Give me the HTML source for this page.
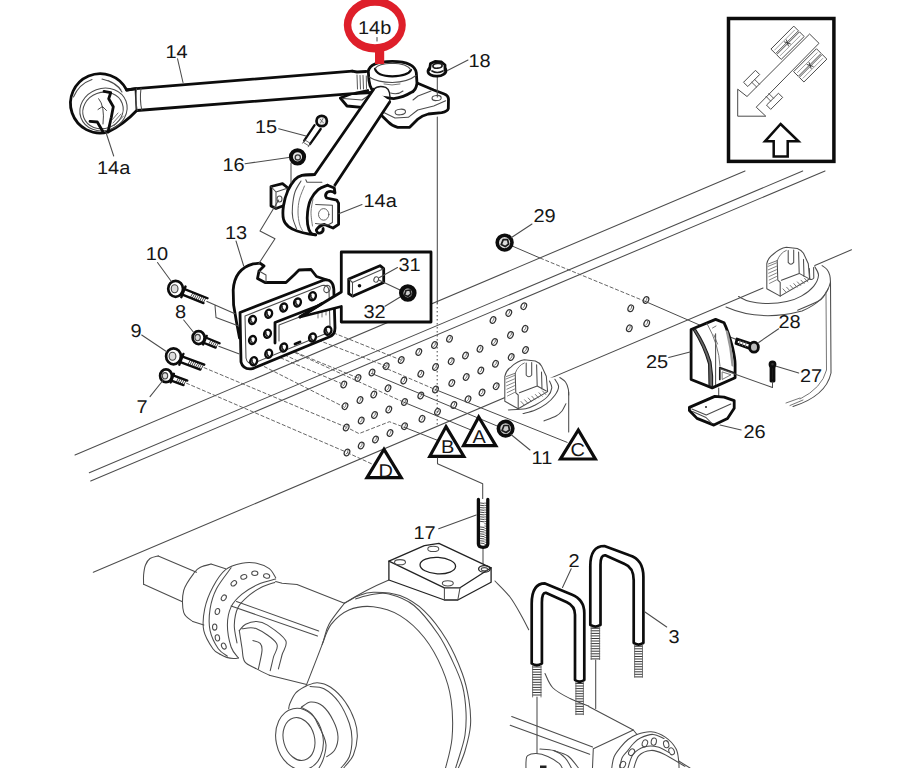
<!DOCTYPE html>
<html><head><meta charset="utf-8"><title>Diagram</title>
<style>
html,body{margin:0;padding:0;background:#fff;overflow:hidden}
svg{display:block}
text{font-family:"Liberation Sans",sans-serif;font-size:18.5px;fill:#161616;text-rendering:geometricPrecision}
.k{stroke:#0c0c0c;stroke-width:2.8;fill:none;stroke-linecap:round;stroke-linejoin:round}
.kw{stroke:#0c0c0c;stroke-width:2.8;fill:#fff;stroke-linecap:round;stroke-linejoin:round}
.m{stroke:#1c1c1c;stroke-width:1.7;fill:none;stroke-linecap:round;stroke-linejoin:round}
.mw{stroke:#1c1c1c;stroke-width:1.7;fill:#fff;stroke-linecap:round;stroke-linejoin:round}
.t{stroke:#4c4c4c;stroke-width:1.05;fill:none;stroke-linecap:round;stroke-linejoin:round}
.tw{stroke:#4c4c4c;stroke-width:1.05;fill:#fff;stroke-linecap:round;stroke-linejoin:round}
.g{stroke:#666;stroke-width:0.9;fill:none;stroke-linecap:round;stroke-linejoin:round}
.d{stroke:#555;stroke-width:0.9;fill:none;stroke-dasharray:4 1.8}
.d2{stroke:#444;stroke-width:1;fill:none;stroke-dasharray:1.5 2.5}
.g2{stroke:#4a4a4a;stroke-width:1;fill:none}
.w{fill:#fff;stroke:none}
</style></head><body>
<svg width="900" height="768" viewBox="0 0 900 768">
<rect width="900" height="768" fill="#fff"/>
<g id="frame">
<path class="t" d="M75.0 455.0L745.0 171.0" />
<path class="t" d="M89.3 472.7L802.7 171.0" />
<path class="t" d="M90.7 481.0L825.0 171.0" />
<path class="t" d="M93.3 572.3L763.0 288.0" />
</g>
<g id="airR">
<path class="t" d="M726 307 Q760 322 802 311 Q826 301 830.5 282 L831 373 Q826 396 793 406.5" />
<path class="t" d="M814.8 265.6L851.5 249.7" />
<path class="t" d="M814.8 266.8C815.4 268.2 818.7 272.1 818.5 275.3C818.3 278.6 816.5 282.8 813.6 286.3C810.7 289.8 805.8 293.6 801.3 296.1C796.8 298.7 792.2 300.4 786.7 301.6C781.2 302.8 774.4 303.5 768.3 303.5C762.2 303.5 755.0 302.8 750.0 301.6C745.0 300.4 740.4 297.4 738.5 296.5" />
<path class="t" d="M822.1 265.6C822.9 266.2 825.7 267.9 827.0 269.5C828.3 271.1 829.2 273.1 829.8 275.3C830.4 277.6 830.4 281.7 830.5 283.0" />
<path class="t" d="M828.2 288.8C827.5 290.0 825.6 294.0 824.0 296.0C822.4 298.0 822.9 298.6 818.5 301.0C814.1 303.4 801.2 308.7 797.7 310.2" />
<path class="g" d="M826 292 L826.5 370 Q822 388 800 399" />
<path class="g" d="M786 403 L800 398 M790 405.5 L803 400" />
<path class="t" d="M809.3 268.5 L809.8 279 Q812 280.5 813.8 278 L813.6 267.5" />
<g transform="translate(262 -112.6)">
<path class="tw" d="M504.8 376.3 Q506 370.5 510.9 367.1 Q518 360.5 524.3 359.8 L535.3 361 Q539.5 362.5 541.5 365.9 L546.3 376.3 L547.6 391.6 L518.2 408.7 L504.8 401.3 Z" />
<path class="t" d="M515.2 373.2 L515.8 392.8 L518.2 395 L518.2 408.7 M536.6 364.7 L537.2 386 L519.4 392.8 M537.2 386 L546.3 391 M541.5 372 L542 389" />
<path class="g" d="M515.2 373.2 Q518 365.5 524.3 363 M506.5 376.5 L515.2 373.2" />
<path class="t" d="M526.2 363 L526.2 375 Q528.8 378.5 531.7 375 L531.7 362.5" />
<path class="g" d="M506.0 379.0L514.5 375.5" style="stroke:#777"/>
<path class="g" d="M506.3 382.4L514.5 378.9" style="stroke:#777"/>
<path class="g" d="M506.6 385.8L514.5 382.3" style="stroke:#777"/>
<path class="g" d="M506.9 389.2L514.5 385.7" style="stroke:#777"/>
<path class="g" d="M507.2 392.6L514.5 389.1" style="stroke:#777"/>
<path class="g" d="M507.5 396.0L514.5 392.5" style="stroke:#777"/>
<path class="g" d="M521.0 401.5L524.2 405.0" style="stroke:#666"/>
<path class="g" d="M524.6 399.8L527.8 403.2" style="stroke:#666"/>
<path class="g" d="M528.2 398.0L531.4 401.5" style="stroke:#666"/>
<path class="g" d="M531.8 396.2L535.0 399.8" style="stroke:#666"/>
<path class="g" d="M535.4 394.5L538.6 398.0" style="stroke:#666"/>
<path class="g" d="M539.0 392.8L542.2 396.2" style="stroke:#666"/>
<path class="g" d="M542.6 391.0L545.8 394.5" style="stroke:#666"/>
</g>
</g>
<g id="airC">
<path class="w" d="M504.8 397 L548.8 377.5 L559.8 377.5 Q568 382 568.7 392 L568.7 431 L540 425 Z" />
<path class="t" d="M559.8 377.5C560.8 378.2 564.1 380.1 565.5 382.0C566.9 383.9 567.8 386.9 568.3 389.1C568.8 391.3 568.6 394.0 568.7 395.0" />
<path class="t" d="M568.7 392.0L568.7 432.0" />
<path class="t" d="M554.9 379.3C555.5 380.5 558.6 383.9 558.6 386.5C558.6 389.1 557.0 392.3 554.9 395.2C552.8 398.1 549.6 401.4 546.3 403.8C543.0 406.2 539.2 408.3 535.3 409.9C531.4 411.5 525.1 413.0 523.1 413.6" />
<path class="t" d="M549.5 381.0C549.9 382.1 552.1 385.3 551.8 387.9C551.5 390.5 550.4 393.6 547.6 396.5C544.9 399.4 539.0 403.0 535.3 405.0C531.6 407.0 530.1 407.9 525.6 408.7C521.1 409.5 511.3 409.7 508.4 409.9" />
<path class="t" d="M565.9 403.8C565.2 405.0 563.6 409.0 562.0 411.0C560.4 413.0 559.1 414.4 556.1 416.0C553.1 417.6 545.9 420.1 543.9 420.9" />
<path class="tw" d="M504.8 376.3 Q506 370.5 510.9 367.1 Q518 360.5 524.3 359.8 L535.3 361 Q539.5 362.5 541.5 365.9 L546.3 376.3 L547.6 391.6 L518.2 408.7 L504.8 401.3 Z" />
<path class="t" d="M515.2 373.2 L515.8 392.8 L518.2 395 L518.2 408.7 M536.6 364.7 L537.2 386 L519.4 392.8 M537.2 386 L546.3 391 M541.5 372 L542 389" />
<path class="g" d="M515.2 373.2 Q518 365.5 524.3 363 M506.5 376.5 L515.2 373.2" />
<path class="t" d="M526.2 363 L526.2 375 Q528.8 378.5 531.7 375 L531.7 362.5" />
<path class="g" d="M506.0 379.0L514.5 375.5" style="stroke:#777"/>
<path class="g" d="M506.3 382.4L514.5 378.9" style="stroke:#777"/>
<path class="g" d="M506.6 385.8L514.5 382.3" style="stroke:#777"/>
<path class="g" d="M506.9 389.2L514.5 385.7" style="stroke:#777"/>
<path class="g" d="M507.2 392.6L514.5 389.1" style="stroke:#777"/>
<path class="g" d="M507.5 396.0L514.5 392.5" style="stroke:#777"/>
<path class="g" d="M521.0 401.5L524.2 405.0" style="stroke:#666"/>
<path class="g" d="M524.6 399.8L527.8 403.2" style="stroke:#666"/>
<path class="g" d="M528.2 398.0L531.4 401.5" style="stroke:#666"/>
<path class="g" d="M531.8 396.2L535.0 399.8" style="stroke:#666"/>
<path class="g" d="M535.4 394.5L538.6 398.0" style="stroke:#666"/>
<path class="g" d="M539.0 392.8L542.2 396.2" style="stroke:#666"/>
<path class="g" d="M542.6 391.0L545.8 394.5" style="stroke:#666"/>
</g>
<g id="holes">
<ellipse class="t" cx="343.8" cy="384.5" rx="2.6" ry="3.4" transform="rotate(25 343.8 384.5)" style="stroke:#333;stroke-width:1.25"/>
<path class="g" d="M342.9 386.0Q345.2 385.0 344.8 382.5"/>
<ellipse class="t" cx="358.0" cy="378.0" rx="2.6" ry="3.4" transform="rotate(25 358.0 378.0)" style="stroke:#333;stroke-width:1.25"/>
<path class="g" d="M357.2 379.5Q359.5 378.5 359.0 376.0"/>
<ellipse class="t" cx="372.0" cy="372.5" rx="2.6" ry="3.4" transform="rotate(25 372.0 372.5)" style="stroke:#333;stroke-width:1.25"/>
<path class="g" d="M371.2 374.0Q373.5 373.0 373.0 370.5"/>
<ellipse class="t" cx="386.2" cy="366.2" rx="2.6" ry="3.4" transform="rotate(25 386.2 366.2)" style="stroke:#333;stroke-width:1.25"/>
<path class="g" d="M385.4 367.8Q387.8 366.8 387.2 364.2"/>
<ellipse class="t" cx="401.2" cy="360.0" rx="2.6" ry="3.4" transform="rotate(25 401.2 360.0)" style="stroke:#333;stroke-width:1.25"/>
<path class="g" d="M400.4 361.5Q402.8 360.5 402.2 358.0"/>
<ellipse class="t" cx="418.8" cy="352.0" rx="2.6" ry="3.4" transform="rotate(25 418.8 352.0)" style="stroke:#333;stroke-width:1.25"/>
<path class="g" d="M417.9 353.5Q420.2 352.5 419.8 350.0"/>
<ellipse class="t" cx="434.5" cy="345.0" rx="2.6" ry="3.4" transform="rotate(25 434.5 345.0)" style="stroke:#333;stroke-width:1.25"/>
<path class="g" d="M433.7 346.5Q436.0 345.5 435.5 343.0"/>
<ellipse class="t" cx="449.5" cy="338.8" rx="2.6" ry="3.4" transform="rotate(25 449.5 338.8)" style="stroke:#333;stroke-width:1.25"/>
<path class="g" d="M448.7 340.2Q451.0 339.2 450.5 336.8"/>
<ellipse class="t" cx="345.0" cy="406.2" rx="2.6" ry="3.4" transform="rotate(25 345.0 406.2)" style="stroke:#333;stroke-width:1.25"/>
<path class="g" d="M344.2 407.8Q346.5 406.8 346.0 404.2"/>
<ellipse class="t" cx="360.0" cy="400.0" rx="2.6" ry="3.4" transform="rotate(25 360.0 400.0)" style="stroke:#333;stroke-width:1.25"/>
<path class="g" d="M359.2 401.5Q361.5 400.5 361.0 398.0"/>
<ellipse class="t" cx="373.8" cy="394.5" rx="2.6" ry="3.4" transform="rotate(25 373.8 394.5)" style="stroke:#333;stroke-width:1.25"/>
<path class="g" d="M372.9 396.0Q375.2 395.0 374.8 392.5"/>
<ellipse class="t" cx="388.0" cy="388.2" rx="2.6" ry="3.4" transform="rotate(25 388.0 388.2)" style="stroke:#333;stroke-width:1.25"/>
<path class="g" d="M387.2 389.8Q389.5 388.8 389.0 386.2"/>
<ellipse class="t" cx="403.8" cy="380.5" rx="2.6" ry="3.4" transform="rotate(25 403.8 380.5)" style="stroke:#333;stroke-width:1.25"/>
<path class="g" d="M402.9 382.0Q405.2 381.0 404.8 378.5"/>
<ellipse class="t" cx="420.8" cy="373.8" rx="2.6" ry="3.4" transform="rotate(25 420.8 373.8)" style="stroke:#333;stroke-width:1.25"/>
<path class="g" d="M419.9 375.2Q422.2 374.2 421.8 371.8"/>
<ellipse class="t" cx="435.5" cy="367.0" rx="2.6" ry="3.4" transform="rotate(25 435.5 367.0)" style="stroke:#333;stroke-width:1.25"/>
<path class="g" d="M434.7 368.5Q437.0 367.5 436.5 365.0"/>
<ellipse class="t" cx="451.2" cy="361.2" rx="2.6" ry="3.4" transform="rotate(25 451.2 361.2)" style="stroke:#333;stroke-width:1.25"/>
<path class="g" d="M450.4 362.8Q452.8 361.8 452.2 359.2"/>
<ellipse class="t" cx="465.5" cy="355.5" rx="2.6" ry="3.4" transform="rotate(25 465.5 355.5)" style="stroke:#333;stroke-width:1.25"/>
<path class="g" d="M464.7 357.0Q467.0 356.0 466.5 353.5"/>
<ellipse class="t" cx="480.0" cy="348.8" rx="2.6" ry="3.4" transform="rotate(25 480.0 348.8)" style="stroke:#333;stroke-width:1.25"/>
<path class="g" d="M479.2 350.2Q481.5 349.2 481.0 346.8"/>
<ellipse class="t" cx="494.5" cy="342.0" rx="2.6" ry="3.4" transform="rotate(25 494.5 342.0)" style="stroke:#333;stroke-width:1.25"/>
<path class="g" d="M493.7 343.5Q496.0 342.5 495.5 340.0"/>
<ellipse class="t" cx="510.5" cy="335.0" rx="2.6" ry="3.4" transform="rotate(25 510.5 335.0)" style="stroke:#333;stroke-width:1.25"/>
<path class="g" d="M509.7 336.5Q512.0 335.5 511.5 333.0"/>
<ellipse class="t" cx="525.0" cy="328.8" rx="2.6" ry="3.4" transform="rotate(25 525.0 328.8)" style="stroke:#333;stroke-width:1.25"/>
<path class="g" d="M524.2 330.2Q526.5 329.2 526.0 326.8"/>
<ellipse class="t" cx="493.0" cy="320.0" rx="2.6" ry="3.4" transform="rotate(25 493.0 320.0)" style="stroke:#333;stroke-width:1.25"/>
<path class="g" d="M492.2 321.5Q494.5 320.5 494.0 318.0"/>
<ellipse class="t" cx="508.8" cy="313.0" rx="2.6" ry="3.4" transform="rotate(25 508.8 313.0)" style="stroke:#333;stroke-width:1.25"/>
<path class="g" d="M507.9 314.5Q510.2 313.5 509.8 311.0"/>
<ellipse class="t" cx="523.8" cy="306.2" rx="2.6" ry="3.4" transform="rotate(25 523.8 306.2)" style="stroke:#333;stroke-width:1.25"/>
<path class="g" d="M523.0 307.8Q525.2 306.8 524.8 304.2"/>
<ellipse class="t" cx="346.2" cy="427.5" rx="2.6" ry="3.4" transform="rotate(25 346.2 427.5)" style="stroke:#333;stroke-width:1.25"/>
<path class="g" d="M345.4 429.0Q347.8 428.0 347.2 425.5"/>
<ellipse class="t" cx="361.2" cy="420.5" rx="2.6" ry="3.4" transform="rotate(25 361.2 420.5)" style="stroke:#333;stroke-width:1.25"/>
<path class="g" d="M360.4 422.0Q362.8 421.0 362.2 418.5"/>
<ellipse class="t" cx="374.5" cy="415.0" rx="2.6" ry="3.4" transform="rotate(25 374.5 415.0)" style="stroke:#333;stroke-width:1.25"/>
<path class="g" d="M373.7 416.5Q376.0 415.5 375.5 413.0"/>
<ellipse class="t" cx="388.8" cy="409.5" rx="2.6" ry="3.4" transform="rotate(25 388.8 409.5)" style="stroke:#333;stroke-width:1.25"/>
<path class="g" d="M387.9 411.0Q390.2 410.0 389.8 407.5"/>
<ellipse class="t" cx="404.5" cy="402.0" rx="2.6" ry="3.4" transform="rotate(25 404.5 402.0)" style="stroke:#333;stroke-width:1.25"/>
<path class="g" d="M403.7 403.5Q406.0 402.5 405.5 400.0"/>
<ellipse class="t" cx="420.8" cy="395.5" rx="2.6" ry="3.4" transform="rotate(25 420.8 395.5)" style="stroke:#333;stroke-width:1.25"/>
<path class="g" d="M419.9 397.0Q422.2 396.0 421.8 393.5"/>
<ellipse class="t" cx="435.5" cy="389.5" rx="2.6" ry="3.4" transform="rotate(25 435.5 389.5)" style="stroke:#333;stroke-width:1.25"/>
<path class="g" d="M434.7 391.0Q437.0 390.0 436.5 387.5"/>
<ellipse class="t" cx="451.8" cy="383.0" rx="2.6" ry="3.4" transform="rotate(25 451.8 383.0)" style="stroke:#333;stroke-width:1.25"/>
<path class="g" d="M450.9 384.5Q453.2 383.5 452.8 381.0"/>
<ellipse class="t" cx="466.2" cy="377.0" rx="2.6" ry="3.4" transform="rotate(25 466.2 377.0)" style="stroke:#333;stroke-width:1.25"/>
<path class="g" d="M465.4 378.5Q467.8 377.5 467.2 375.0"/>
<ellipse class="t" cx="480.8" cy="370.5" rx="2.6" ry="3.4" transform="rotate(25 480.8 370.5)" style="stroke:#333;stroke-width:1.25"/>
<path class="g" d="M479.9 372.0Q482.2 371.0 481.8 368.5"/>
<ellipse class="t" cx="495.5" cy="363.8" rx="2.6" ry="3.4" transform="rotate(25 495.5 363.8)" style="stroke:#333;stroke-width:1.25"/>
<path class="g" d="M494.7 365.2Q497.0 364.2 496.5 361.8"/>
<ellipse class="t" cx="511.2" cy="357.0" rx="2.6" ry="3.4" transform="rotate(25 511.2 357.0)" style="stroke:#333;stroke-width:1.25"/>
<path class="g" d="M510.4 358.5Q512.8 357.5 512.2 355.0"/>
<ellipse class="t" cx="525.5" cy="350.0" rx="2.6" ry="3.4" transform="rotate(25 525.5 350.0)" style="stroke:#333;stroke-width:1.25"/>
<path class="g" d="M524.7 351.5Q527.0 350.5 526.5 348.0"/>
<ellipse class="t" cx="347.0" cy="452.5" rx="2.6" ry="3.4" transform="rotate(25 347.0 452.5)" style="stroke:#333;stroke-width:1.25"/>
<path class="g" d="M346.2 454.0Q348.5 453.0 348.0 450.5"/>
<ellipse class="t" cx="361.2" cy="445.5" rx="2.6" ry="3.4" transform="rotate(25 361.2 445.5)" style="stroke:#333;stroke-width:1.25"/>
<path class="g" d="M360.4 447.0Q362.8 446.0 362.2 443.5"/>
<ellipse class="t" cx="375.5" cy="439.5" rx="2.6" ry="3.4" transform="rotate(25 375.5 439.5)" style="stroke:#333;stroke-width:1.25"/>
<path class="g" d="M374.7 441.0Q377.0 440.0 376.5 437.5"/>
<ellipse class="t" cx="390.0" cy="433.0" rx="2.6" ry="3.4" transform="rotate(25 390.0 433.0)" style="stroke:#333;stroke-width:1.25"/>
<path class="g" d="M389.2 434.5Q391.5 433.5 391.0 431.0"/>
<ellipse class="t" cx="404.5" cy="426.2" rx="2.6" ry="3.4" transform="rotate(25 404.5 426.2)" style="stroke:#333;stroke-width:1.25"/>
<path class="g" d="M403.7 427.8Q406.0 426.8 405.5 424.2"/>
<ellipse class="t" cx="422.0" cy="418.8" rx="2.6" ry="3.4" transform="rotate(25 422.0 418.8)" style="stroke:#333;stroke-width:1.25"/>
<path class="g" d="M421.2 420.2Q423.5 419.2 423.0 416.8"/>
<ellipse class="t" cx="437.5" cy="411.8" rx="2.6" ry="3.4" transform="rotate(25 437.5 411.8)" style="stroke:#333;stroke-width:1.25"/>
<path class="g" d="M436.7 413.2Q439.0 412.2 438.5 409.8"/>
<ellipse class="t" cx="453.8" cy="405.0" rx="2.6" ry="3.4" transform="rotate(25 453.8 405.0)" style="stroke:#333;stroke-width:1.25"/>
<path class="g" d="M452.9 406.5Q455.2 405.5 454.8 403.0"/>
<ellipse class="t" cx="468.0" cy="399.2" rx="2.6" ry="3.4" transform="rotate(25 468.0 399.2)" style="stroke:#333;stroke-width:1.25"/>
<path class="g" d="M467.2 400.8Q469.5 399.8 469.0 397.2"/>
<ellipse class="t" cx="482.0" cy="392.5" rx="2.6" ry="3.4" transform="rotate(25 482.0 392.5)" style="stroke:#333;stroke-width:1.25"/>
<path class="g" d="M481.2 394.0Q483.5 393.0 483.0 390.5"/>
<ellipse class="t" cx="496.2" cy="386.2" rx="2.6" ry="3.4" transform="rotate(25 496.2 386.2)" style="stroke:#333;stroke-width:1.25"/>
<path class="g" d="M495.4 387.8Q497.8 386.8 497.2 384.2"/>
<ellipse class="t" cx="630.7" cy="308.3" rx="2.6" ry="3.4" transform="rotate(25 630.7 308.3)" style="stroke:#333;stroke-width:1.25"/>
<path class="g" d="M629.9 309.8Q632.2 308.8 631.7 306.3"/>
<ellipse class="t" cx="646.0" cy="300.0" rx="2.6" ry="3.4" transform="rotate(25 646.0 300.0)" style="stroke:#333;stroke-width:1.25"/>
<path class="g" d="M645.2 301.5Q647.5 300.5 647.0 298.0"/>
<ellipse class="t" cx="629.3" cy="328.3" rx="2.6" ry="3.4" transform="rotate(25 629.3 328.3)" style="stroke:#333;stroke-width:1.25"/>
<path class="g" d="M628.5 329.8Q630.8 328.8 630.3 326.3"/>
<ellipse class="t" cx="646.7" cy="323.3" rx="2.6" ry="3.4" transform="rotate(25 646.7 323.3)" style="stroke:#333;stroke-width:1.25"/>
<path class="g" d="M645.9 324.8Q648.2 323.8 647.7 321.3"/>
</g>
<g id="guides">
<path class="d2" d="M437.2 303.0L437.2 426.0" />
<path class="d" d="M203.7 367.5L346.4 427.3" />
<path class="d" d="M186.0 383.0L344.6 451.4" />
<path class="d" d="M253.6 361.2L343.7 406.8" />
<path class="d" d="M269.6 353.2L343.7 384.5" />
<path class="d" d="M284.8 347.9L358.0 378.0" />
<path class="d" d="M312.5 338.0L386.2 366.2" />
<path class="d" d="M328.0 330.7L401.0 360.0" />
<path class="d" d="M252.7 340.2L300.0 362.0" />
<path class="d" d="M283.7 347.5L403.5 402.1" />
<path class="g2" d="M645.0 301.3L702.5 326.3" />
<path class="d" d="M347.0 452.5L372.0 464.0" />
<path class="g2" d="M371.6 373.4L505.5 429.5" />
<path class="d" d="M382.0 366.6L434.7 389.3" />
<path class="g2" d="M434.7 389.3L567.5 442.5" />
<path class="g2" d="M403.5 402.1L471.0 430.0" />
<path class="g2" d="M404.0 427.2L438.0 440.5" />
<path class="d" d="M350.0 429.0L359.0 433.6L389.4 421.7L404.0 427.2" />
</g>
<g id="bracket">
<path class="kw" d="M239.5 338 L236.5 322 L233.6 305 L233.2 290 Q234.5 269 253.2 263.9 L260 263.2 L264 266 L259 271 L257.5 278.5 L265 282.5 L286 282.5 L294 275 L299 270 L311 269.5 L316.5 276.5 L330 281 L330 300 L240 335 Z" />
<path class="t" d="M259 271 L266 275 L266 282" />
<path class="kw" d="M240 312.5 L324 280 Q333 279 333.8 289 L335 328 Q335 335 329 337 L252.5 368.7 Q243 370 241 362 Z" />
<path class="t" d="M245 316 L322 285.5 Q328.5 284.5 329 291 L330 327 Q330 332 326 333.5 L254 363 Q247 364.5 246 358 Z" />
<path class="k" d="M275 343 L275 322.5 L320 305 L333 301" />
<path class="t" d="M279 341 L279 325 L320 309" />
<path class="g" d="M318 306 L318 318 M322 304 L322 317 M326 303 L326 315" />
<ellipse cx="252.5" cy="320" rx="3.3" ry="4.1" transform="rotate(20 252.5 320)" fill="#fff" stroke="#0c0c0c" stroke-width="2.4"/>
<path d="M250.9 318.2Q250.1 321.2 252.7 322.6" stroke="#222" stroke-width="1.5" fill="none"/>
<ellipse cx="268.7" cy="313.7" rx="3.3" ry="4.1" transform="rotate(20 268.7 313.7)" fill="#fff" stroke="#0c0c0c" stroke-width="2.4"/>
<path d="M267.1 311.9Q266.3 314.9 268.9 316.3" stroke="#222" stroke-width="1.5" fill="none"/>
<ellipse cx="283.7" cy="307.5" rx="3.3" ry="4.1" transform="rotate(20 283.7 307.5)" fill="#fff" stroke="#0c0c0c" stroke-width="2.4"/>
<path d="M282.1 305.7Q281.3 308.7 283.9 310.1" stroke="#222" stroke-width="1.5" fill="none"/>
<ellipse cx="297.5" cy="302.5" rx="3.3" ry="4.1" transform="rotate(20 297.5 302.5)" fill="#fff" stroke="#0c0c0c" stroke-width="2.4"/>
<path d="M295.9 300.7Q295.1 303.7 297.7 305.1" stroke="#222" stroke-width="1.5" fill="none"/>
<ellipse cx="312.5" cy="296.2" rx="3.3" ry="4.1" transform="rotate(20 312.5 296.2)" fill="#fff" stroke="#0c0c0c" stroke-width="2.4"/>
<path d="M310.9 294.4Q310.1 297.4 312.7 298.8" stroke="#222" stroke-width="1.5" fill="none"/>
<ellipse cx="252.5" cy="340" rx="3.3" ry="4.1" transform="rotate(20 252.5 340)" fill="#fff" stroke="#0c0c0c" stroke-width="2.4"/>
<path d="M250.9 338.2Q250.1 341.2 252.7 342.6" stroke="#222" stroke-width="1.5" fill="none"/>
<ellipse cx="267.5" cy="333.7" rx="3.3" ry="4.1" transform="rotate(20 267.5 333.7)" fill="#fff" stroke="#0c0c0c" stroke-width="2.4"/>
<path d="M265.9 331.9Q265.1 334.9 267.7 336.3" stroke="#222" stroke-width="1.5" fill="none"/>
<ellipse cx="253.7" cy="361.2" rx="3.3" ry="4.1" transform="rotate(20 253.7 361.2)" fill="#fff" stroke="#0c0c0c" stroke-width="2.4"/>
<path d="M252.1 359.4Q251.3 362.4 253.9 363.8" stroke="#222" stroke-width="1.5" fill="none"/>
<ellipse cx="268.7" cy="353.7" rx="3.3" ry="4.1" transform="rotate(20 268.7 353.7)" fill="#fff" stroke="#0c0c0c" stroke-width="2.4"/>
<path d="M267.1 351.9Q266.3 354.9 268.9 356.3" stroke="#222" stroke-width="1.5" fill="none"/>
<ellipse cx="283.7" cy="347.5" rx="3.3" ry="4.1" transform="rotate(20 283.7 347.5)" fill="#fff" stroke="#0c0c0c" stroke-width="2.4"/>
<path d="M282.1 345.7Q281.3 348.7 283.9 350.1" stroke="#222" stroke-width="1.5" fill="none"/>
<ellipse cx="312.5" cy="337.5" rx="3.3" ry="4.1" transform="rotate(20 312.5 337.5)" fill="#fff" stroke="#0c0c0c" stroke-width="2.4"/>
<path d="M310.9 335.7Q310.1 338.7 312.7 340.1" stroke="#222" stroke-width="1.5" fill="none"/>
<ellipse cx="328" cy="330.7" rx="3.3" ry="4.1" transform="rotate(20 328 330.7)" fill="#fff" stroke="#0c0c0c" stroke-width="2.4"/>
<path d="M326.4 328.9Q325.6 331.9 328.2 333.3" stroke="#222" stroke-width="1.5" fill="none"/>
<ellipse class="t" cx="327.0" cy="289.0" rx="3" ry="3.6" transform="rotate(20 327.0 289.0)" />
<path class="k" d="M295.0 344.0L300.0 342.0" />
</g>
<g id="box31">
<path class="kw" d="M341.3 292 L341.3 252 L431 252 L431 322 L341.3 322 L341.3 306.5 L300 317 Z" />
<path class="k" d="M300 317 L322 303.5" />
<path class="kw" d="M348.7 279.0L380.0 265.7L383.7 268.7L383.7 282.5L352.5 296.2L348.7 293.7Z" />
<path class="t" d="M352.5 296.2 L352.5 282.5 L348.7 279 M352.5 282.5 L383.7 268.7" />
<circle cx="359.5" cy="285.7" r="1.8" fill="#111"/>
<ellipse class="t" cx="376.2" cy="279.5" rx="2.3" ry="2.8" transform="rotate(20 376.2 279.5)" />
<path class="t" d="M378.7 280.0L400.0 290.0" />
<path class="t" d="M379.5 277.5L397.5 267.5" />
<path class="t" d="M385.0 306.2L401.0 296.5" />
<circle cx="407.8" cy="293" r="6.6" fill="#ccc" stroke="#0c0c0c" stroke-width="4.4"/>
<path class="m" d="M404.5 295 L406 290.5 L410 290 L411 294 L408 296.5 Z" />
</g>
<g id="bolts">
<path class="t" d="M206.5 301.3 L235 313.7 M215 305.5 L216 317.5 L238.7 326" />
<path class="t" d="M218.7 346.3L238.7 353.7" />
<path class="w" d="M180.5 293.9L205.4 303.8L207.6 298.2L182.7 288.4" />
<path class="g" d="M190.1 297.8L193.1 292.5" style="stroke:#333"/>
<path class="g" d="M192.0 298.5L195.0 293.2" style="stroke:#333"/>
<path class="g" d="M193.9 299.2L196.8 294.0" style="stroke:#333"/>
<path class="g" d="M195.7 300.0L198.7 294.7" style="stroke:#333"/>
<path class="g" d="M197.6 300.7L200.5 295.4" style="stroke:#333"/>
<path class="g" d="M199.5 301.4L202.4 296.2" style="stroke:#333"/>
<path class="g" d="M201.3 302.2L204.3 296.9" style="stroke:#333"/>
<path class="g" d="M203.2 302.9L206.1 297.6" style="stroke:#333"/>
<path class="k" d="M180.5 293.9L203.5 303.1" style="stroke-width:2.3"/>
<path class="k" d="M182.7 288.4L207.6 298.2" style="stroke-width:2.3"/>
<ellipse cx="175.6" cy="288.8" rx="7.4" ry="8.0" fill="#fff" stroke="#0c0c0c" stroke-width="2.7"/>
<ellipse cx="174.6" cy="288.8" rx="3.4" ry="4.0" fill="#ddd" stroke="#444" stroke-width="1.1"/>
<path class="k" d="M181.3 297.2L185.5 286.5" style="stroke-width:2.4"/>
<path class="w" d="M202.3 342.2L217.4 348.4L219.6 343.2L204.5 337.0" />
<path class="g" d="M208.4 344.7L211.3 339.8" style="stroke:#333"/>
<path class="g" d="M210.3 345.4L213.1 340.6" style="stroke:#333"/>
<path class="g" d="M212.1 346.2L215.0 341.3" style="stroke:#333"/>
<path class="g" d="M214.0 347.0L216.8 342.1" style="stroke:#333"/>
<path class="g" d="M215.8 347.7L218.7 342.8" style="stroke:#333"/>
<path class="k" d="M202.3 342.2L215.6 347.6" style="stroke-width:2.3"/>
<path class="k" d="M204.5 337.0L219.6 343.2" style="stroke-width:2.3"/>
<ellipse cx="198.6" cy="337.6" rx="6.0" ry="6.5" fill="#fff" stroke="#0c0c0c" stroke-width="2.7"/>
<ellipse cx="197.6" cy="337.6" rx="2.7" ry="3.2" fill="#ddd" stroke="#444" stroke-width="1.1"/>
<path class="k" d="M203.1 344.5L206.7 335.9" style="stroke-width:2.4"/>
<path class="w" d="M178.4 361.4L202.1 370.3L204.3 364.7L180.5 355.8" />
<path class="g" d="M187.7 364.9L190.6 359.5" style="stroke:#333"/>
<path class="g" d="M189.6 365.6L192.4 360.2" style="stroke:#333"/>
<path class="g" d="M191.4 366.3L194.3 360.9" style="stroke:#333"/>
<path class="g" d="M193.3 367.0L196.2 361.6" style="stroke:#333"/>
<path class="g" d="M195.2 367.7L198.1 362.4" style="stroke:#333"/>
<path class="g" d="M197.1 368.4L199.9 363.1" style="stroke:#333"/>
<path class="g" d="M198.9 369.1L201.8 363.8" style="stroke:#333"/>
<path class="g" d="M200.8 369.8L203.7 364.5" style="stroke:#333"/>
<path class="k" d="M178.4 361.4L200.3 369.6" style="stroke-width:2.3"/>
<path class="k" d="M180.5 355.8L204.3 364.7" style="stroke-width:2.3"/>
<ellipse cx="173.5" cy="356.3" rx="7.4" ry="8.0" fill="#fff" stroke="#0c0c0c" stroke-width="2.7"/>
<ellipse cx="172.5" cy="356.3" rx="3.4" ry="4.0" fill="#ddd" stroke="#444" stroke-width="1.1"/>
<path class="k" d="M179.3 364.7L183.4 353.9" style="stroke-width:2.4"/>
<path class="w" d="M169.9 380.2L185.3 385.8L187.3 380.6L171.8 374.9" />
<path class="g" d="M176.1 382.4L178.7 377.5" style="stroke:#333"/>
<path class="g" d="M177.9 383.1L180.6 378.1" style="stroke:#333"/>
<path class="g" d="M179.8 383.8L182.5 378.8" style="stroke:#333"/>
<path class="g" d="M181.7 384.5L184.4 379.5" style="stroke:#333"/>
<path class="g" d="M183.6 385.2L186.2 380.2" style="stroke:#333"/>
<path class="k" d="M169.9 380.2L183.5 385.1" style="stroke-width:2.3"/>
<path class="k" d="M171.8 374.9L187.3 380.6" style="stroke-width:2.3"/>
<ellipse cx="166.0" cy="375.8" rx="5.9" ry="6.4" fill="#fff" stroke="#0c0c0c" stroke-width="2.7"/>
<ellipse cx="165.0" cy="375.8" rx="2.7" ry="3.2" fill="#ddd" stroke="#444" stroke-width="1.1"/>
<path class="k" d="M170.7 382.4L173.9 373.8" style="stroke-width:2.4"/>
</g>
<g id="plate">
<path class="kw" d="M340.3 98 L347 106 L361.7 107.3 L372 101 L372 92.5 L352 93.5 Z" />
<path class="t" d="M343 98.5 L362 100 L368 96" />
<path class="kw" d="M417.7 83.3 L433.7 90 L444.3 94 Q448.3 95.5 448.5 99 L448.3 108.7 Q447.5 111.5 441.7 112.7 L428.3 114 Q422 115.5 417.7 119.3 L409.7 127.3 L397.7 127.3 Q392 126 388.3 122 L378 112 L384 96 Z" />
<path class="t" d="M384.3 112.7 L395 118 L408.3 117.3 L417.7 110 L433.7 106 L445.7 100.7" />
<path class="t" d="M431 91 L418 96 L413 100" />
<ellipse class="t" cx="400.3" cy="112.0" rx="5.2" ry="2.8" transform="rotate(-5 400.3 112.0)" />
<ellipse class="t" cx="436.6" cy="98.0" rx="4.6" ry="2.6" transform="rotate(-5 436.6 98.0)" />
<path class="t" d="M437.3 77.0L437.3 97.0" />
<path class="t" d="M437.3 117.0L437.3 303.0" />
</g>
<g id="rods">
<path class="kw" d="M126.7 90 A29.7 29.7 0 1 0 108 132 Q124 124 137 110.2 L136 88.7 Z" />
<ellipse class="t" cx="103.5" cy="109.5" rx="24" ry="21" transform="rotate(-20 103.5 109.5)" />
<ellipse class="t" cx="103.0" cy="110.5" rx="20.5" ry="18" transform="rotate(-20 103.0 110.5)" />
<path class="t" d="M102 79 Q116 82 122 92 M73.5 97 Q79 84 92 79.5 M108 80.5 Q117 84 121 90" />
<path class="k" d="M104 91.3 L110.7 92.7 L108.7 98.7 L113.3 106.7 L111.3 117.3 L108 132" />
<path class="k" d="M90 121.3 L97.3 122 L102.7 131.3" />
<path class="g" d="M98.7 98.7 Q105 106 103 124 M98 109.5 L102.5 106.5 L106.5 110.5" style="stroke:#333"/>
<path class="g" d="M112 120 L118 113 M113 123 L121 114 M114.5 125.5 L123.5 116" />
<path class="w" d="M136 88.7 L352.2 71.1 L355.6 93.3 L137 110.5 Z" />
<path class="k" d="M126.7 90 L136 88.7 L352.2 71.1" />
<path class="k" d="M137 110.5 L355.6 93.3" />
<path class="t" d="M136.5 88.7 Q135 100 137.3 110.5 M141 88.3 Q139.5 100 141.8 110" />
<path class="k" d="M352.2 71.1 L357 72 L366 71.5 M355.6 93.3 L367.7 90.5" />
<path class="g" d="M357 75 L357.5 89 M360 75.5 L360.5 89 M363 75.5 L363.5 89 M366.3 76 L366.5 88.5" style="stroke:#444"/>
<path class="kw" d="M368.3 71.3 Q370 61.3 392.3 61.3 Q414.5 61.5 416.3 72.7 L417 83.3 Q416 91 411 92.5 Q404 97 393.7 98.7 L380 97 Q370 92 369 80.7 Z" />
<path class="k" d="M375 68.7 Q377 76 392.3 76.3 Q408 76 411 70" style="stroke-width:2.2"/>
<path class="t" d="M375 68.7 Q378 63.5 392.3 63.3 Q407 63.5 411 70" />
<path class="t" d="M369 77 Q378 82.5 392.3 82.5 Q408 82 416 75.5" />
<path class="g" d="M384 84 Q392 86 400 84" />
<path class="w" d="M373.7 89.3 L314.5 174.7 L334.3 186 L390 101 Z" />
<path class="k" d="M373.7 89.3 L314.5 174.7 L302 175.4" />
<path class="k" d="M389.7 102 L334.3 186" />
<path class="m" d="M373.7 89.3 Q378 85 385.7 87.3 Q391 90 389.7 102" style="stroke-width:1.4"/>
<path class="t" d="M390.5 93 Q398 95 403 91" />
</g>
<g id="bush">
<path class="kw" d="M271 186.5 L282.5 183.7 L288 188 L288 204 L276 208.5 L271 206 Z" />
<path class="t" d="M276 208.5 L276 192 L271 186.5 M276 192 L288 188" />
<ellipse class="t" cx="279.5" cy="199.0" rx="2.5" ry="3" />
<path class="w" d="M314.5 174.7 L302 175.4 Q290 182 285 198 Q281.5 215 286 224 Q292 230 309.5 234.2 L320 234 L336 228 L339 203 L334.5 186 Z" />
<path class="k" d="M314.5 174.7C312.4 174.8 305.3 174.6 302.0 175.4C298.7 176.2 297.1 177.1 294.7 179.7C292.3 182.3 289.7 186.5 287.8 190.8C285.9 195.1 284.2 200.9 283.5 205.7C282.8 210.4 282.7 215.8 283.5 219.3C284.3 222.8 286.2 224.8 288.5 226.7C290.8 228.6 293.6 229.8 297.1 231.0C300.6 232.2 306.4 233.6 309.5 234.2C312.6 234.8 314.7 234.7 315.7 234.8" />
<path class="t" d="M301.0 181.0C300.0 182.8 296.4 187.8 295.0 192.0C293.6 196.2 292.9 201.7 292.5 206.0C292.1 210.3 292.1 214.2 292.8 218.0C293.5 221.8 295.9 226.8 296.5 228.5" />
<path class="g" d="M304.5 186.0C303.7 188.2 300.6 194.7 299.5 199.0C298.4 203.3 298.0 207.8 298.0 212.0C298.0 216.2 298.7 220.8 299.5 224.0C300.3 227.2 302.4 230.2 303.0 231.5" />
<path class="k" d="M327.5 185.3C325.9 186.0 321.0 187.2 318.2 189.6C315.4 192.0 312.5 195.8 310.7 199.5C308.9 203.2 308.1 207.8 307.6 211.9C307.1 216.0 307.1 220.8 307.6 224.3C308.1 227.8 309.4 231.2 310.7 232.9C312.0 234.7 314.9 234.5 315.7 234.8" />
<path class="k" d="M327.5 185.3 L334.3 188 L335 193 Q331 190.3 327.2 192.3 Q324.3 195 326.5 198 L336.7 200.1 L338.6 203.2 L338.6 224.3 L333 228 L324.4 224.5 Q319 225.5 316.3 230 Q317 234 320.5 233 Q323.8 231.5 323.1 228.5" />
<path class="t" d="M315.7 204.5 L332.4 205.2 L332.4 222.5 L328 225 L315.5 223.5" />
<ellipse class="g" cx="323.7" cy="214.4" rx="5.2" ry="5.8" style="stroke:#555"/>
<path class="g" d="M313.0 199.0C312.7 201.2 311.1 207.5 311.0 212.0C310.9 216.5 312.2 223.7 312.5 226.0" />
<path class="t" d="M305.8 179.7 L307 182.2 L321.9 182.2" />
<path class="t" d="M278.7 200.0L260.0 231.0L275.0 238.7L258.7 263.7" />
<path class="t" d="M291.0 163.0L291.0 183.0" />
</g>
<g id="small1">
<path class="w" d="M314.6 125.2 L303.2 142.2 L309 146 L320.6 129 Z" />
<path class="k" d="M314.6 125.2 L304.2 140.6 M320.7 129 L310 144.1" style="stroke-width:2.3"/>
<path class="g" d="M304.2 140.6 L302.6 143.2 M310 144.1 L308.2 146.8 M303.5 142.5 L308.8 145.8 M305 140 L310 143.2" style="stroke:#555"/>
<circle cx="321.7" cy="121" r="5.2" fill="#eee" stroke="#0c0c0c" stroke-width="2.7"/>
<path class="g" d="M320 119 L323.5 123 M323 118.5 L320.5 123" style="stroke:#666"/>
<circle cx="297.5" cy="156.8" r="6.6" fill="#e4e4e4" stroke="#0c0c0c" stroke-width="4"/>
<circle cx="297.8" cy="157.4" r="2.6" fill="none" stroke="#333" stroke-width="1.3"/>
<ellipse class="kw" cx="437.0" cy="71.0" rx="9" ry="5.2" transform="rotate(-3 437.0 71.0)" />
<path class="kw" d="M429.5 69.5 L430.5 63.5 L435 61.5 L441.5 62 L445 65 L445 70" />
<ellipse class="m" cx="437.5" cy="65.8" rx="4.6" ry="2.4" transform="rotate(-5 437.5 65.8)" />
<path class="m" d="M432 71 Q437 74 443 71" />
</g>
<g id="tri">
<path class="kw" d="M478.7 417.0L495.8 445.6L463.5 445.6Z" style="stroke-width:3.2;stroke-linejoin:miter"/>
<path class="kw" d="M446.0 426.6L463.8 456.3L429.8 456.3Z" style="stroke-width:3.2;stroke-linejoin:miter"/>
<path class="kw" d="M384.0 449.3L401.2 477.6L367.0 477.6Z" style="stroke-width:3.2;stroke-linejoin:miter"/>
<path class="kw" d="M578.3 430.0L595.3 459.0L560.5 459.0Z" style="stroke-width:3.2;stroke-linejoin:miter"/>
<circle cx="505.6" cy="428.6" r="7.2" fill="#ccc" stroke="#0c0c0c" stroke-width="3.7"/>
<path class="m" d="M502 430.5 L504 425.5 L508.5 425.5 L509.5 430 L506 432.5 Z" />
<path class="t" d="M511.0 434.5L530.0 450.0" />
<path class="t" d="M437.5 458 L437.5 463.7 L482.7 483.7 L482.7 500" />
</g>
<g id="n29">
<path class="g2" d="M511.0 245.5L540.0 258.0" />
<path class="d" d="M540.0 258.0L645.0 301.3" />
<circle cx="504.6" cy="242.6" r="7.4" fill="#ddd" stroke="#0c0c0c" stroke-width="3.6"/>
<path class="m" d="M501.2 244.6 L503.2 239.6 L507.6 239.6 L508.6 244 L505.2 246.6 Z" />
<path class="t" d="M511.5 237.5L532.0 224.0" />
</g>
<g id="p25">
<path class="t" d="M702.5 326.3L757.0 347.5" />
<path class="kw" d="M691.1 329.5 L715.6 319.4 L724.1 322.8 Q728.5 332 732.5 347.3 Q735 358 735.1 364 L735.1 377.8 L712.2 387.9 L691.1 379.5 Z" />
<path d="M695.3 328.7 Q706 345 711 362 L712.6 376 L712.6 387 L709 385.6 L708.6 364 Q703.5 346 693.3 330 Z" fill="#6a6a6a" stroke="#1a1a1a" stroke-width="1.1"/>
<path class="t" d="M715.6 333.8 L715.6 384.5" />
<path class="g" d="M707 323.5 Q719 345 720 366" />
<path d="M725.5 330 Q730 348 731.5 366 L733.8 367 Q732.5 348 728 331 Z" fill="#999" stroke="none"/>
<path class="m" d="M719.8 379.5 L719.8 367.6 L734.2 372.7" />
<path class="g" d="M722.5 372 L731 374.8 L722.5 379.3 Z" />
<path class="g" d="M712.5 328 L716 326 M714 335 L717.5 344" />
<path class="t" d="M718.7 388.0L718.7 402.0" />
<path class="kw" d="M689.4 407.4 L714.8 396.4 L724.1 397.2 L734.2 400.6 L734.2 408.2 L727.5 418.4 L713.9 425.1 L697 418.4 L689.4 410.5 Z" />
<path class="t" d="M691.9 409 L706.3 415 L730.8 404 M692.5 411.5 L706 417.5 L712 423.5" />
<circle cx="706" cy="407" r="1" fill="#222"/>
<path class="kw" d="M737 339 L752 344 L751 349 L736 343.5 Z" />
<ellipse cx="754" cy="347.2" rx="4.4" ry="5" fill="#bbb" stroke="#0c0c0c" stroke-width="2.8"/>
<path class="g" d="M740 340.5 L739.5 344.5 M743 341.5 L742.5 345.5 M746 342.5 L745.5 346.5" />
<path class="k" d="M771 366 L771 381 L774 381 L774 366" style="fill:#555"/>
<circle cx="772.5" cy="364.3" r="2.6" fill="#333" stroke="#0c0c0c" stroke-width="2.6"/>
<path class="t" d="M720 368.7 L772.5 387.5 L772.5 382" />
</g>
<g id="stud">
<path class="t" d="M483.0 547.0L483.0 567.5" />
<rect x="478.4" y="499" width="9.4" height="47" fill="#fff"/>
<path class="g" d="M480.5 503.0L484.0 503.4" style="stroke:#333"/>
<path class="g" d="M480.5 505.3L484.0 505.7" style="stroke:#333"/>
<path class="g" d="M480.5 507.6L484.0 508.0" style="stroke:#333"/>
<path class="g" d="M480.5 509.9L484.0 510.3" style="stroke:#333"/>
<path class="g" d="M480.5 512.2L484.0 512.6" style="stroke:#333"/>
<path class="g" d="M480.5 514.5L484.0 514.9" style="stroke:#333"/>
<path class="g" d="M480.5 516.8L484.0 517.2" style="stroke:#333"/>
<path class="g" d="M480.5 519.1L484.0 519.5" style="stroke:#333"/>
<path class="g" d="M480.5 521.4L484.0 521.8" style="stroke:#333"/>
<path class="g" d="M480.5 527.0L484.0 527.4" style="stroke:#333"/>
<path class="g" d="M480.5 529.3L484.0 529.7" style="stroke:#333"/>
<path class="g" d="M480.5 531.6L484.0 532.0" style="stroke:#333"/>
<path class="g" d="M480.5 533.9L484.0 534.3" style="stroke:#333"/>
<path class="g" d="M480.5 536.2L484.0 536.6" style="stroke:#333"/>
<path class="g" d="M480.5 538.5L484.0 538.9" style="stroke:#333"/>
<path class="g" d="M480.5 540.8L484.0 541.2" style="stroke:#333"/>
<path class="g" d="M480.5 543.1L484.0 543.5" style="stroke:#333"/>
<path class="g" d="M484.8 503.0L486.5 503.3" style="stroke:#555"/>
<path class="g" d="M484.8 505.3L486.5 505.6" style="stroke:#555"/>
<path class="g" d="M484.8 507.6L486.5 507.9" style="stroke:#555"/>
<path class="g" d="M484.8 509.9L486.5 510.2" style="stroke:#555"/>
<path class="g" d="M484.8 512.2L486.5 512.5" style="stroke:#555"/>
<path class="g" d="M484.8 514.5L486.5 514.8" style="stroke:#555"/>
<path class="g" d="M484.8 516.8L486.5 517.1" style="stroke:#555"/>
<path class="g" d="M484.8 519.1L486.5 519.4" style="stroke:#555"/>
<path class="g" d="M484.8 521.4L486.5 521.7" style="stroke:#555"/>
<path class="g" d="M484.8 523.7L486.5 524.0" style="stroke:#555"/>
<path class="g" d="M484.8 526.0L486.5 526.3" style="stroke:#555"/>
<path class="g" d="M484.8 528.3L486.5 528.6" style="stroke:#555"/>
<path class="g" d="M484.8 530.6L486.5 530.9" style="stroke:#555"/>
<path class="g" d="M484.8 532.9L486.5 533.2" style="stroke:#555"/>
<path class="g" d="M484.8 535.2L486.5 535.5" style="stroke:#555"/>
<path class="g" d="M484.8 537.5L486.5 537.8" style="stroke:#555"/>
<path class="g" d="M484.8 539.8L486.5 540.1" style="stroke:#555"/>
<path class="g" d="M484.8 542.1L486.5 542.4" style="stroke:#555"/>
<path class="g" d="M484.8 544.4L486.5 544.7" style="stroke:#555"/>
<path class="k" d="M478.4 499.5 L478.4 544 Q478.6 547.3 483.1 547.3 Q487.6 547.3 487.8 544 L487.8 499.5" style="stroke-width:3.3"/>
</g>
<g id="vbox">
<rect x="728.5" y="18.5" width="105.4" height="142.9" fill="#fff" stroke="#0c0c0c" stroke-width="3.5"/>
<path class="m" d="M780.6 124.0L798.5 141.3L787.7 141.3L787.7 156.4L773.7 156.4L773.7 141.3L765.0 141.3Z" style="stroke-width:2.5;stroke:#0c0c0c;stroke-linejoin:miter"/>
<path class="g" d="M765.4 116.2L737.7 116.2L737.7 89.2L747.0 96.5L809.6 34.0L819.0 43.3L756.5 106.9Z" style="stroke:#4a4a4a;stroke-width:1"/>
<path class="g" d="M803.9 36.8L781.2 59.4L776.6 54.7L799.2 32.1Z" style="stroke:#4a4a4a;stroke-width:1"/>
<path class="g" d="M800.1 35.8L780.3 55.6" style="stroke:#888;stroke-width:0.8"/>
<path class="g" d="M798.2 31.1L775.6 53.7L770.9 49.1L793.5 26.4Z" style="stroke:#4a4a4a;stroke-width:1"/>
<path class="g" d="M794.5 30.2L774.7 50.0" style="stroke:#888;stroke-width:0.8"/>
<path class="g" d="M784.4 41.9L790.4 43.9" style="stroke:#333"/>
<path class="g" d="M786.4 39.9L788.4 45.9" style="stroke:#333"/>
<path class="g" d="M759.4 74.8L747.8 86.5L743.5 82.3L755.2 70.6Z" style="stroke:#4a4a4a;stroke-width:1"/>
<path class="g" d="M759.4 84.2L754.7 79.5" style="stroke:#4a4a4a"/>
<path class="g" d="M756.6 87.0L751.9 82.4" style="stroke:#4a4a4a"/>
<path class="g" d="M816.2 49.0L793.6 71.7L798.3 76.3L820.9 53.7Z" style="stroke:#4a4a4a;stroke-width:1"/>
<path class="g" d="M817.2 52.8L797.4 72.6" style="stroke:#888;stroke-width:0.8"/>
<path class="g" d="M821.9 54.7L799.3 77.3L803.9 82.0L826.6 59.4Z" style="stroke:#4a4a4a;stroke-width:1"/>
<path class="g" d="M822.8 58.4L803.0 78.2" style="stroke:#888;stroke-width:0.8"/>
<path class="g" d="M807.1 64.5L813.1 66.5" style="stroke:#333"/>
<path class="g" d="M809.1 62.5L811.1 68.5" style="stroke:#333"/>
<path class="g" d="M778.2 93.5L766.5 105.1L770.7 109.4L782.4 97.7Z" style="stroke:#4a4a4a;stroke-width:1"/>
<path class="g" d="M768.8 93.5L773.5 98.2" style="stroke:#4a4a4a"/>
<path class="g" d="M766.0 96.3L770.6 101.0" style="stroke:#4a4a4a"/>
</g>
<g id="axle">
<path class="t" d="M344.4 603.3C346.7 602.1 353.2 597.9 358.0 596.0C362.8 594.1 366.3 592.3 373.3 592.2C380.3 592.1 391.5 592.5 400.0 595.6C408.5 598.8 416.6 603.7 424.4 611.1C432.2 618.5 440.4 629.6 446.7 640.0C453.0 650.4 458.5 663.3 462.2 673.3C465.9 683.3 467.5 691.4 468.9 700.0C470.3 708.6 471.1 716.5 470.5 725.0C469.9 733.5 467.2 743.5 465.0 751.0C462.8 758.5 458.8 766.8 457.5 770.0" />
<path class="t" d="M355.6 598.9C358.3 598.2 366.4 595.4 372.0 594.6C377.6 593.8 381.9 592.2 388.9 594.0C395.9 595.8 405.8 598.8 414.0 605.5C422.2 612.2 431.7 624.9 438.0 634.0C444.3 643.1 447.9 651.3 452.0 660.0C456.1 668.7 460.2 677.3 462.5 686.0C464.8 694.7 465.6 703.8 466.0 712.0C466.4 720.2 466.0 728.0 465.0 735.0C464.0 742.0 461.7 748.2 460.0 754.0C458.3 759.8 455.8 767.3 455.0 770.0" />
<path class="t" d="M322.2 644.4C323.7 641.1 326.7 630.1 331.1 624.4C335.6 618.7 341.9 613.0 348.9 610.0C355.9 607.0 364.8 605.8 373.3 606.7C381.8 607.6 391.5 610.4 400.0 615.6C408.5 620.8 417.4 628.9 424.4 637.8C431.4 646.7 437.8 658.5 442.2 668.9C446.6 679.3 449.5 688.4 451.1 700.0C452.7 711.6 453.0 726.8 452.0 738.5C451.0 750.2 446.2 764.8 445.0 770.0" />
<path class="t" d="M344.4 603.3C341.8 606.8 332.6 617.5 328.9 624.4C325.2 631.2 325.9 634.4 322.2 644.4C318.5 654.4 309.3 677.7 306.7 684.4" />
<path class="t" d="M388.9 580 Q365 590 344.4 603.3" />
<path class="t" d="M275.7 581.4 L282.1 583.3 L297 584.5 L344.4 603.3" />
<path class="t" d="M231.1 606 L317.5 636 M236.5 601.5 L318.7 631" />
<path class="t" d="M269.3 675.2 L306.7 684.4" />
<path class="t" d="M239.3 630.6C240.4 629.5 242.7 625.7 245.6 624.2C248.5 622.7 253.0 621.4 256.6 621.5C260.2 621.6 262.6 621.9 267.5 625.1C272.4 628.3 283.3 635.6 285.7 640.6C288.1 645.6 283.2 650.3 282.0 655.0C280.8 659.7 279.0 666.6 278.4 668.9" />
<path class="t" d="M239.3 630.6C239.8 633.5 241.1 642.8 242.0 648.0C242.9 653.2 242.3 658.1 244.7 661.6C247.1 665.1 252.5 666.6 256.6 668.9C260.7 671.2 267.2 674.2 269.3 675.2" />
<path class="t" d="M242.0 628.8C244.4 628.8 250.8 626.4 256.6 628.8C262.4 631.2 273.8 638.7 276.6 643.4C279.4 648.1 274.6 652.5 273.5 657.0C272.4 661.5 270.8 668.4 270.2 670.7" />
<path class="t" d="M252.9 640.6C254.1 641.1 258.7 641.7 260.2 643.4C261.7 645.1 262.3 646.4 262.0 650.6C261.7 654.9 259.0 665.9 258.4 668.9" />
<path class="t" d="M275.7 577.8C274.6 576.3 272.5 571.1 269.3 568.7C266.1 566.3 261.2 564.1 256.6 563.2C252.1 562.3 247.2 562.1 242.0 563.2C236.8 564.3 230.4 565.7 225.6 569.6C220.8 573.5 216.4 580.4 212.9 586.9C209.4 593.4 206.2 601.5 204.7 608.8C203.2 616.1 202.4 623.9 203.8 630.6C205.2 637.3 210.2 644.8 212.9 648.8C215.6 652.8 218.9 653.4 220.1 654.3" />
<path class="t" d="M231.1 567.8C228.7 571.3 220.0 581.9 216.5 588.7C213.0 595.5 211.2 601.8 210.1 608.8C209.0 615.8 208.7 623.9 210.1 630.6C211.5 637.3 215.4 644.5 218.3 648.8C221.2 653.0 225.9 654.9 227.4 656.1" />
<path class="t" d="M275.7 579.0C272.8 579.9 264.0 581.7 258.4 584.2C252.8 586.7 246.6 590.4 242.0 594.2C237.4 598.0 233.5 601.8 231.1 606.9C228.7 612.0 227.4 618.4 227.4 625.1C227.4 631.8 229.3 641.5 231.1 647.0C232.9 652.5 237.2 656.1 238.4 657.9" />
<path class="t" d="M274.8 582.4C272.5 583.2 265.2 585.4 261.0 587.5C256.8 589.6 253.1 591.9 249.3 595.2C245.5 598.5 240.5 602.5 238.0 607.5C235.5 612.5 234.5 619.1 234.3 625.0C234.1 630.9 236.6 640.0 237.0 643.0" />
<path class="t" d="M220.1 654.3 Q229 660 238.4 657.9" />
<ellipse class="t" cx="266.6" cy="576.0" rx="3.1" ry="2.2" transform="rotate(10 266.6 576.0)" />
<ellipse class="t" cx="254.8" cy="573.2" rx="3.1" ry="2.2" />
<ellipse class="t" cx="243.8" cy="576.9" rx="3.1" ry="2.2" transform="rotate(-20 243.8 576.9)" />
<ellipse class="t" cx="233.8" cy="583.3" rx="3.1" ry="2.2" transform="rotate(-40 233.8 583.3)" />
<ellipse class="t" cx="223.8" cy="597.8" rx="3.1" ry="2.2" transform="rotate(-55 223.8 597.8)" />
<ellipse class="t" cx="217.4" cy="611.5" rx="3.1" ry="2.2" transform="rotate(-75 217.4 611.5)" />
<ellipse class="t" cx="214.7" cy="627.0" rx="3.1" ry="2.2" transform="rotate(-90 214.7 627.0)" />
<ellipse class="t" cx="217.4" cy="637.9" rx="3.1" ry="2.2" transform="rotate(-100 217.4 637.9)" />
<ellipse class="t" cx="223.8" cy="646.1" rx="3.1" ry="2.2" transform="rotate(-115 223.8 646.1)" />
<path class="t" d="M158.2 555.9 L196.5 572.3 M143.6 584.2 L181.9 601.5" />
<path class="t" d="M158.2 555.9C156.8 556.3 152.1 557.0 150.0 558.5C147.9 560.0 146.6 562.2 145.5 565.0C144.4 567.8 143.9 571.8 143.6 575.0C143.3 578.2 143.6 582.7 143.6 584.2" />
<path class="t" d="M211 564.1 L225.6 568.7 M192.8 621.5 L203.8 625.1" />
<path class="t" d="M211.0 564.1C209.3 564.6 203.7 565.6 201.0 567.0C198.3 568.4 197.5 568.4 194.6 572.3C191.7 576.2 185.5 583.8 183.7 590.5C181.9 597.2 182.2 607.2 183.7 612.4C185.2 617.6 191.3 620.0 192.8 621.5" />
<path class="t" d="M306.0 686.0C307.9 685.5 313.2 682.5 317.3 682.7C321.4 682.9 326.0 684.1 330.7 687.3C335.4 690.5 341.3 696.4 345.3 702.0C349.3 707.6 352.7 714.9 354.7 720.7C356.7 726.5 357.5 730.9 357.3 736.7C357.1 742.5 355.3 750.4 353.3 755.3C351.3 760.2 347.2 763.5 345.3 766.0C343.4 768.5 342.6 769.3 342.0 770.0" />
<path class="t" d="M310.0 686.5C312.3 686.9 319.2 686.1 324.0 688.7C328.8 691.3 334.5 696.2 338.7 702.0C342.9 707.8 347.1 717.1 349.3 723.3C351.5 729.5 352.0 733.7 352.0 739.3C352.0 744.9 351.1 751.9 349.3 756.7C347.5 761.5 342.4 766.1 341.0 768.0" />
<path class="t" d="M306.0 686.0C304.3 687.1 298.7 689.8 296.0 692.7C293.3 695.6 291.2 700.6 290.0 703.3C288.8 706.0 288.9 707.8 288.7 708.7" />
<path class="t" d="M301.3 707.3C302.9 706.4 307.1 702.2 310.7 702.0C314.3 701.8 318.9 702.9 322.7 706.0C326.5 709.1 330.8 715.6 333.3 720.7C335.9 725.8 337.8 731.8 338.0 736.7C338.2 741.6 336.6 746.7 334.7 750.0C332.8 753.3 328.0 755.6 326.7 756.7" />
<ellipse class="tw" cx="299.5" cy="739.0" rx="23.5" ry="31" transform="rotate(-12 299.5 739.0)" />
<path class="t" d="M301.3 707.3C303.1 708.4 309.1 710.9 312.0 714.0C314.9 717.1 316.7 722.2 318.7 726.0C320.7 729.8 322.8 733.9 324.0 737.0C325.2 740.1 325.8 742.0 326.0 744.7C326.2 747.4 325.6 750.3 325.0 753.0C324.4 755.7 323.7 758.2 322.7 760.7C321.7 763.2 319.6 766.8 319.0 768.0" />
<ellipse class="t" cx="299.0" cy="739.0" rx="15.5" ry="21.8" transform="rotate(-15 299.0 739.0)" />
<path class="tw" d="M388.9 561.1L424.4 545.6L438.9 543.3L491.1 567.8L491.1 582.2L457.8 600.0L444.4 600.0L388.9 580.0Z" style="stroke:#222;stroke-width:1.3"/>
<path class="t" d="M388.9 561.1L444.4 587.8L460.0 587.8L491.1 567.8" style="stroke:#222;stroke-width:1.3"/>
<path class="t" d="M444.4 587.8 L444.4 600 M460 587.8 L457.8 600" />
<ellipse class="t" cx="437.8" cy="565.6" rx="17.8" ry="8.2" transform="rotate(3 437.8 565.6)" style="stroke:#222;stroke-width:1.3"/>
<ellipse class="t" cx="433.3" cy="548.9" rx="5.5" ry="2.6" />
<ellipse class="t" cx="400.0" cy="562.2" rx="5.5" ry="2.6" />
<ellipse class="t" cx="447.8" cy="583.3" rx="5.5" ry="2.6" />
<ellipse class="t" cx="484.4" cy="568.9" rx="5.8" ry="3.2" style="stroke:#222;stroke-width:1.3"/>
<ellipse class="t" cx="484.4" cy="569.2" rx="3.2" ry="1.6" />
<path class="t" d="M495.0 581.0C497.5 583.7 505.7 591.3 510.0 597.0C514.3 602.7 517.9 609.5 521.0 615.0C524.1 620.5 527.4 627.2 528.7 629.7" />
<path class="t" d="M545.0 673.5C546.3 675.9 548.8 683.8 553.0 688.0C557.2 692.2 564.0 695.5 570.0 698.5C576.0 701.5 585.6 704.8 588.7 706.0" />
<path class="t" d="M588.7 706.5 L633.3 730 L593.3 748.7 L592.4 770" />
<path class="t" d="M511.7 716.6 L592.6 747 M510.2 725.3 L589.7 754.2" />
<path class="t" d="M633.3 730 L637 734.5" />
<path class="t" d="M611.5 770.0C611.9 767.8 612.4 760.9 614.0 757.0C615.6 753.1 618.6 749.8 620.9 746.9C623.2 744.0 625.3 741.6 628.0 739.5C630.7 737.4 633.0 735.7 636.9 734.4C640.8 733.1 646.4 731.3 651.1 731.8C655.8 732.2 661.1 734.3 665.3 737.1C669.4 739.9 673.8 744.7 676.0 748.7C678.2 752.7 678.2 757.6 678.7 761.1C679.2 764.6 679.0 768.5 679.0 770.0" />
<path class="t" d="M619.5 770.0C619.9 768.0 620.6 761.3 622.0 758.0C623.4 754.7 626.1 752.8 628.0 750.4C629.9 748.0 631.4 745.6 633.5 743.5C635.6 741.4 637.2 739.5 640.4 738.0C643.6 736.5 649.0 734.3 652.9 734.4C656.8 734.5 662.1 737.8 664.0 738.5" />
<path class="t" d="M633.3 770.0C634.2 767.6 635.7 759.1 638.7 755.8C641.7 752.5 647.0 750.7 651.1 750.4C655.2 750.1 658.0 751.3 663.6 754.0C669.2 756.7 681.4 764.3 684.9 766.4" />
<path class="t" d="M627.5 770.0C628.4 767.4 630.1 758.4 633.0 754.5C635.9 750.6 640.8 748.0 645.0 746.8C649.2 745.5 654.0 746.0 658.0 747.0C662.0 748.0 667.2 751.6 669.0 752.5" />
<ellipse class="t" cx="622.7" cy="764.7" rx="2.6" ry="3.6" transform="rotate(30 622.7 764.7)" />
<ellipse class="t" cx="631.6" cy="752.2" rx="2.6" ry="3.6" transform="rotate(35 631.6 752.2)" />
<ellipse class="t" cx="644.9" cy="743.3" rx="2.6" ry="3.6" transform="rotate(20 644.9 743.3)" />
<ellipse class="t" cx="653.8" cy="741.6" rx="2.6" ry="3.6" transform="rotate(10 653.8 741.6)" />
<ellipse class="t" cx="666.2" cy="744.2" rx="2.6" ry="3.6" transform="rotate(-15 666.2 744.2)" />
<ellipse class="t" cx="671.6" cy="751.3" rx="2.6" ry="3.6" transform="rotate(-25 671.6 751.3)" />
<path class="t" d="M678.7 761 L690 768" />
<path class="t" d="M526.0 770.0C526.0 768.5 525.8 763.1 526.1 760.7C526.4 758.3 525.9 756.8 527.6 755.6C529.3 754.4 532.8 753.4 536.2 753.5C539.6 753.6 543.9 754.7 547.8 756.4C551.7 758.1 556.9 761.3 559.4 763.6C561.9 765.9 562.4 768.9 563.0 770.0" />
<path class="t" d="M539.9 749.1C542.2 749.4 549.4 749.2 553.6 750.6C557.8 752.0 562.0 754.6 565.1 757.8C568.2 761.0 571.2 768.0 572.4 770.0" />
<path class="t" d="M553.6 750.6C556.0 751.5 563.6 752.8 568.0 756.0C572.4 759.2 578.0 767.7 580.0 770.0" />
<rect x="540" y="765.5" width="6.5" height="3" fill="#222"/>
</g>
<g id="ubolts">
<path class="t" d="M537.0 697.0L537.0 753.5" />
<path class="t" d="M595.7 660.0L595.7 708.5" />
<path class="kw" d="M590.3 624.8 L590.3 566 Q590.3 546 604.4 546 L629.4 555.3 Q643.4 559.5 643.4 577 L643.4 642.8 Q638.55 646.3 633.7 642.8 L633.7 580.3 Q633.7 567.3 624.7 563.9 L605.2 555.3 Q600.5 554.8 600.5 564.7 L600.5 624.8 Q595.4 628.3 590.3 624.8 Z" style="stroke-width:2.7"/>
<path class="g" d="M591.1 628.3L599.7 628.3" style="stroke:#3a3a3a;stroke-width:1"/>
<path class="g" d="M591.1 630.8L599.7 630.8" style="stroke:#3a3a3a;stroke-width:1"/>
<path class="g" d="M591.1 633.4L599.7 633.4" style="stroke:#3a3a3a;stroke-width:1"/>
<path class="g" d="M591.1 635.9L599.7 635.9" style="stroke:#3a3a3a;stroke-width:1"/>
<path class="g" d="M591.1 638.5L599.7 638.5" style="stroke:#3a3a3a;stroke-width:1"/>
<path class="g" d="M591.1 641.0L599.7 641.0" style="stroke:#3a3a3a;stroke-width:1"/>
<path class="g" d="M591.1 643.6L599.7 643.6" style="stroke:#3a3a3a;stroke-width:1"/>
<path class="g" d="M591.1 646.1L599.7 646.1" style="stroke:#3a3a3a;stroke-width:1"/>
<path class="g" d="M591.1 648.7L599.7 648.7" style="stroke:#3a3a3a;stroke-width:1"/>
<path class="g" d="M591.1 651.2L599.7 651.2" style="stroke:#3a3a3a;stroke-width:1"/>
<path class="g" d="M591.1 653.8L599.7 653.8" style="stroke:#3a3a3a;stroke-width:1"/>
<path class="g" d="M591.1 656.3L599.7 656.3" style="stroke:#3a3a3a;stroke-width:1"/>
<path class="g" d="M591.1 658.9L599.7 658.9" style="stroke:#3a3a3a;stroke-width:1"/>
<path class="g" d="M591.2 626.8L591.2 659.5" />
<path class="g" d="M599.6 626.8L599.6 659.5" />
<path class="g" d="M634.5 646.3L642.6 646.3" style="stroke:#3a3a3a;stroke-width:1"/>
<path class="g" d="M634.5 648.8L642.6 648.8" style="stroke:#3a3a3a;stroke-width:1"/>
<path class="g" d="M634.5 651.4L642.6 651.4" style="stroke:#3a3a3a;stroke-width:1"/>
<path class="g" d="M634.5 653.9L642.6 653.9" style="stroke:#3a3a3a;stroke-width:1"/>
<path class="g" d="M634.5 656.5L642.6 656.5" style="stroke:#3a3a3a;stroke-width:1"/>
<path class="g" d="M634.5 659.0L642.6 659.0" style="stroke:#3a3a3a;stroke-width:1"/>
<path class="g" d="M634.5 661.6L642.6 661.6" style="stroke:#3a3a3a;stroke-width:1"/>
<path class="g" d="M634.5 664.1L642.6 664.1" style="stroke:#3a3a3a;stroke-width:1"/>
<path class="g" d="M634.5 666.7L642.6 666.7" style="stroke:#3a3a3a;stroke-width:1"/>
<path class="g" d="M634.5 669.2L642.6 669.2" style="stroke:#3a3a3a;stroke-width:1"/>
<path class="g" d="M634.5 671.8L642.6 671.8" style="stroke:#3a3a3a;stroke-width:1"/>
<path class="g" d="M634.5 674.3L642.6 674.3" style="stroke:#3a3a3a;stroke-width:1"/>
<path class="g" d="M634.5 676.9L642.6 676.9" style="stroke:#3a3a3a;stroke-width:1"/>
<path class="g" d="M634.6 644.8L634.6 677.0" />
<path class="g" d="M642.5 644.8L642.5 677.0" />
<path class="kw" d="M531.7 663.5 L531.7 603.7 Q531.7 583.4 545 583.4 L571.6 594.4 Q584.3 599.4 584.3 613 L584.3 680 Q579.65 683.5 575 680 L575 614.7 Q575 606.0 566.9 602.2 L545.8 592.8 Q541.9 592.3 541.9 602.2 L541.9 663.5 Q536.8 667.0 531.7 663.5 Z" style="stroke-width:2.7"/>
<path class="g" d="M532.5 667.0L541.1 667.0" style="stroke:#3a3a3a;stroke-width:1"/>
<path class="g" d="M532.5 669.5L541.1 669.5" style="stroke:#3a3a3a;stroke-width:1"/>
<path class="g" d="M532.5 672.1L541.1 672.1" style="stroke:#3a3a3a;stroke-width:1"/>
<path class="g" d="M532.5 674.6L541.1 674.6" style="stroke:#3a3a3a;stroke-width:1"/>
<path class="g" d="M532.5 677.2L541.1 677.2" style="stroke:#3a3a3a;stroke-width:1"/>
<path class="g" d="M532.5 679.7L541.1 679.7" style="stroke:#3a3a3a;stroke-width:1"/>
<path class="g" d="M532.5 682.3L541.1 682.3" style="stroke:#3a3a3a;stroke-width:1"/>
<path class="g" d="M532.5 684.8L541.1 684.8" style="stroke:#3a3a3a;stroke-width:1"/>
<path class="g" d="M532.5 687.4L541.1 687.4" style="stroke:#3a3a3a;stroke-width:1"/>
<path class="g" d="M532.5 689.9L541.1 689.9" style="stroke:#3a3a3a;stroke-width:1"/>
<path class="g" d="M532.5 692.5L541.1 692.5" style="stroke:#3a3a3a;stroke-width:1"/>
<path class="g" d="M532.5 695.0L541.1 695.0" style="stroke:#3a3a3a;stroke-width:1"/>
<path class="g" d="M532.6 665.5L532.6 697.0" />
<path class="g" d="M541.0 665.5L541.0 697.0" />
<path class="g" d="M575.8 683.5L583.5 683.5" style="stroke:#3a3a3a;stroke-width:1"/>
<path class="g" d="M575.8 686.0L583.5 686.0" style="stroke:#3a3a3a;stroke-width:1"/>
<path class="g" d="M575.8 688.6L583.5 688.6" style="stroke:#3a3a3a;stroke-width:1"/>
<path class="g" d="M575.8 691.1L583.5 691.1" style="stroke:#3a3a3a;stroke-width:1"/>
<path class="g" d="M575.8 693.7L583.5 693.7" style="stroke:#3a3a3a;stroke-width:1"/>
<path class="g" d="M575.8 696.2L583.5 696.2" style="stroke:#3a3a3a;stroke-width:1"/>
<path class="g" d="M575.8 698.8L583.5 698.8" style="stroke:#3a3a3a;stroke-width:1"/>
<path class="g" d="M575.8 701.3L583.5 701.3" style="stroke:#3a3a3a;stroke-width:1"/>
<path class="g" d="M575.8 703.9L583.5 703.9" style="stroke:#3a3a3a;stroke-width:1"/>
<path class="g" d="M575.8 706.4L583.5 706.4" style="stroke:#3a3a3a;stroke-width:1"/>
<path class="g" d="M575.8 709.0L583.5 709.0" style="stroke:#3a3a3a;stroke-width:1"/>
<path class="g" d="M575.8 711.5L583.5 711.5" style="stroke:#3a3a3a;stroke-width:1"/>
<path class="g" d="M575.8 714.1L583.5 714.1" style="stroke:#3a3a3a;stroke-width:1"/>
<path class="g" d="M575.9 682.0L575.9 714.7" />
<path class="g" d="M583.4 682.0L583.4 714.7" />
</g>
<g id="red">
<path fill="#de1f2a" fill-rule="evenodd" d="M343.8 25a31 27.6 0 1 0 62 0a31 27.6 0 1 0 -62 0ZM351.3 25a23.7 19.2 0 1 0 47.4 0a23.7 19.2 0 1 0 -47.4 0Z"/>
<rect x="375" y="48" width="9.2" height="16" fill="#de1f2a"/>
<path class="t" d="M377.0 37.5L377.0 41.0" />
</g>
<g id="leaders">
<path class="t" d="M177.5 58.7L183.0 82.5" />
<path class="t" d="M106.0 132.5L113.7 156.0" />
<path class="t" d="M278.7 128.7L306.0 136.0" />
<path class="t" d="M245.0 163.7L288.7 157.5" />
<path class="t" d="M447.5 70.5L468.0 60.0" />
<path class="t" d="M338.7 213.7L362.0 204.5" />
<path class="t" d="M236.0 241.0L243.7 266.0" />
<path class="t" d="M157.5 262.5L171.2 281.2" />
<path class="t" d="M183.7 320.0L193.7 332.5" />
<path class="t" d="M141.7 335.0L166.7 351.7" />
<path class="t" d="M150.0 396.7L163.3 380.0" />
<path class="t" d="M758.7 342.5L778.7 328.7" />
<path class="t" d="M668.7 357.5L690.0 352.0" />
<path class="t" d="M776.2 366.2L798.7 373.0" />
<path class="t" d="M720.0 425.0L741.2 430.0" />
<path class="t" d="M438.7 528.7L476.2 515.0" />
<path class="t" d="M571.2 568.7L562.5 587.5" />
<path class="t" d="M645.0 612.0L666.7 627.0" />
</g>
<g id="labels">
<text transform="translate(165.5 58) scale(1.08 1)">14</text>
<text transform="translate(358 34) scale(1.08 1)">14b</text>
<text transform="translate(97 174) scale(1.08 1)">14a</text>
<text transform="translate(255 133) scale(1.08 1)">15</text>
<text transform="translate(222.5 171) scale(1.08 1)">16</text>
<text transform="translate(468.5 66.5) scale(1.08 1)">18</text>
<text transform="translate(363.5 206.5) scale(1.08 1)">14a</text>
<text transform="translate(225 238.5) scale(1.08 1)">13</text>
<text transform="translate(145.8 260) scale(1.08 1)">10</text>
<text transform="translate(175 318) scale(1.08 1)">8</text>
<text transform="translate(130.5 337) scale(1.08 1)">9</text>
<text transform="translate(136.5 413) scale(1.08 1)">7</text>
<text transform="translate(398.5 270.8) scale(1.08 1)">31</text>
<text transform="translate(363.5 317.8) scale(1.08 1)">32</text>
<text transform="translate(533.5 221.8) scale(1.08 1)">29</text>
<text transform="translate(778.5 328) scale(1.08 1)">28</text>
<text transform="translate(646 367.5) scale(1.08 1)">25</text>
<text transform="translate(800 381.5) scale(1.08 1)">27</text>
<text transform="translate(743.5 437.5) scale(1.08 1)">26</text>
<text transform="translate(531.5 464) scale(1.08 1)">11</text>
<text transform="translate(413.5 539) scale(1.08 1)">17</text>
<text transform="translate(568.5 566.5) scale(1.08 1)">2</text>
<text transform="translate(668.5 643) scale(1.08 1)">3</text>
<text transform="translate(472.5 442.5) scale(1.08 1)" font-size="17">A</text>
<text transform="translate(441 453) scale(1.08 1)" font-size="17">B</text>
<text transform="translate(378.5 476.8) scale(1.08 1)" font-size="17">D</text>
<text transform="translate(570.5 455.5) scale(1.08 1)" font-size="17">C</text>
</g>
</svg>
</body></html>
